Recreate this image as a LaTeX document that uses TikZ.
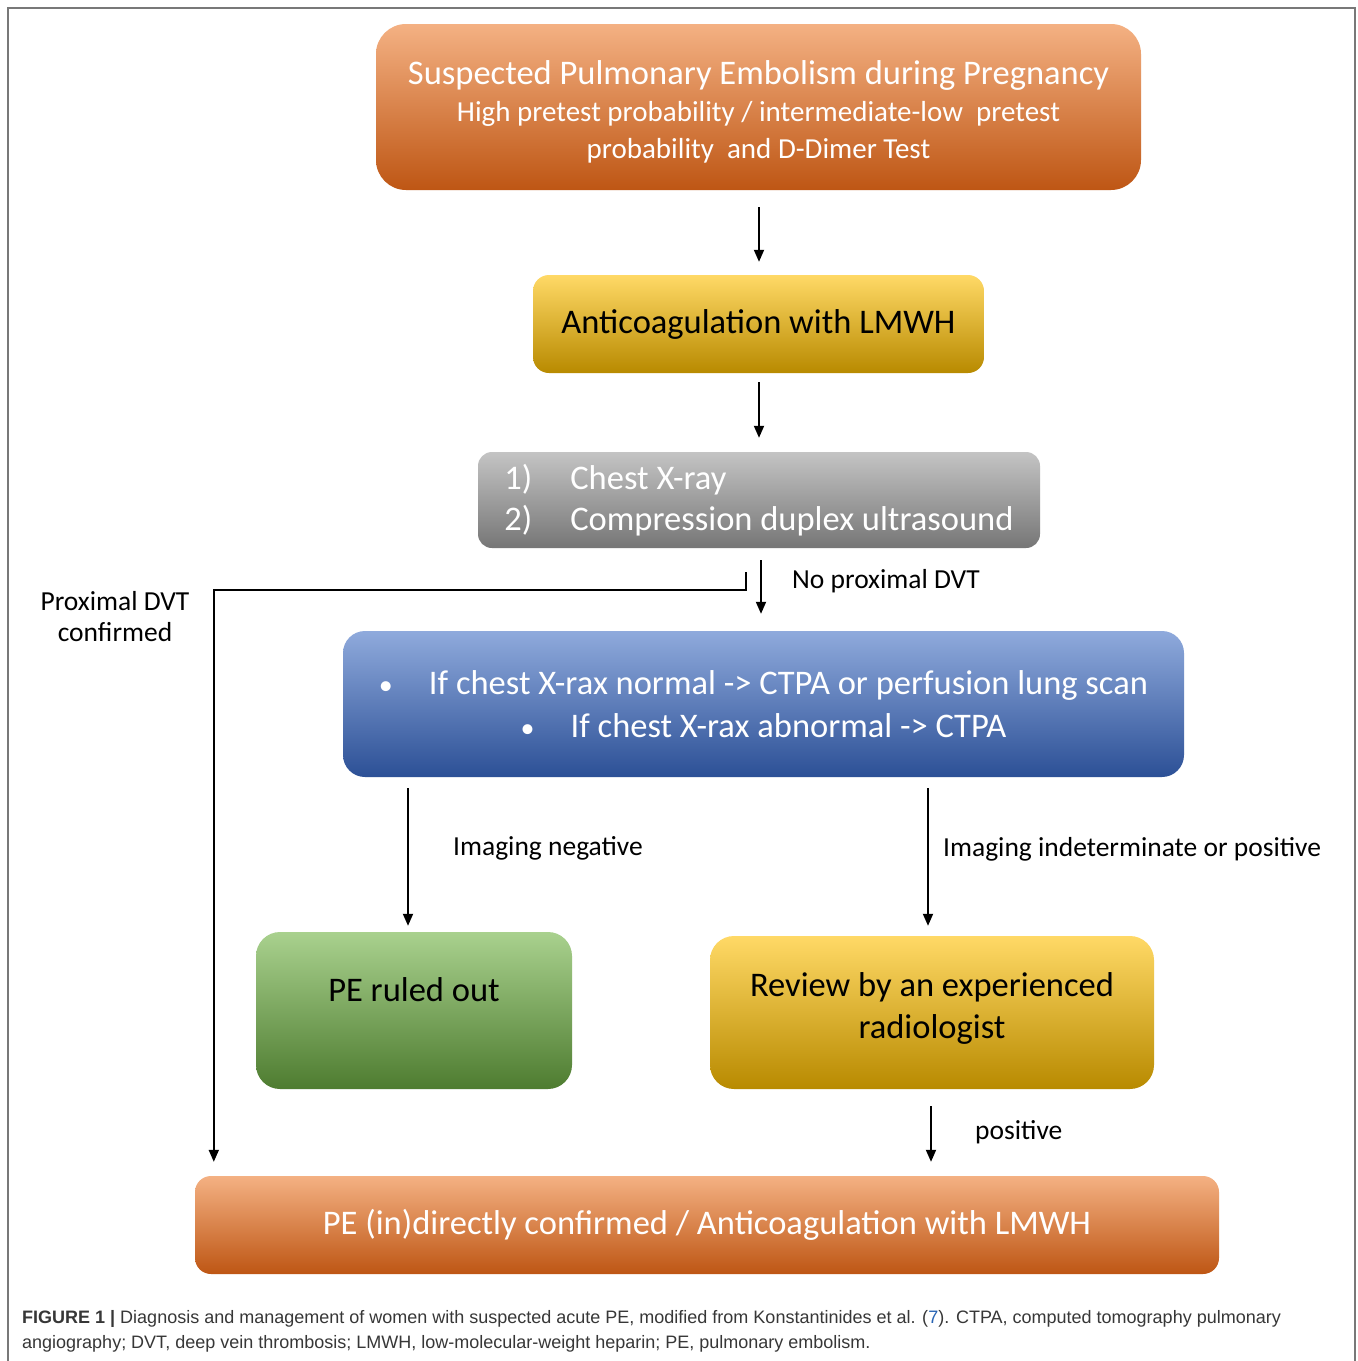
\documentclass[tikz,border=0pt]{standalone}
\usepackage{fontspec}
\setmainfont{Carlito}
\newfontfamily\capfont{Liberation Sans}
\usetikzlibrary{arrows.meta,calc}
\definecolor{orT}{RGB}{244,177,131}
\definecolor{orM}{RGB}{237,125,49}
\definecolor{orB}{RGB}{190,86,20}
\definecolor{yeT}{RGB}{255,217,102}
\definecolor{yeM}{RGB}{255,192,0}
\definecolor{yeB}{RGB}{184,138,0}
\definecolor{grT}{RGB}{196,196,196}
\definecolor{grM}{RGB}{160,160,160}
\definecolor{grB}{RGB}{118,118,118}
\definecolor{blT}{RGB}{143,170,220}
\definecolor{blM}{RGB}{68,114,196}
\definecolor{blB}{RGB}{44,80,150}
\definecolor{gnT}{RGB}{169,209,142}
\definecolor{gnM}{RGB}{112,173,71}
\definecolor{gnB}{RGB}{78,124,48}
\definecolor{capgray}{RGB}{55,55,55}
\definecolor{linkblue}{RGB}{40,100,180}
\definecolor{framegray}{RGB}{120,120,120}
\tikzset{
  box/.style={rounded corners=#1, inner sep=0pt, align=center},
  orangebox/.style={shade, top color=orT, middle color=orM, bottom color=orB, text=white},
  yellowbox/.style={shade, top color=yeT, middle color=yeM, bottom color=yeB, text=black},
  graybox/.style={shade, top color=grT, middle color=grM, bottom color=grB, text=white},
  bluebox/.style={shade, top color=blT, middle color=blM, bottom color=blB, text=white},
  greenbox/.style={shade, top color=gnT, middle color=gnM, bottom color=gnB, text=black},
  bodyfont/.style={font=\fontsize{34.5}{41}\selectfont},
  lbl/.style={font=\fontsize{27.5}{31}\selectfont, inner sep=0pt, text=black},
  arr/.style={draw=black, line width=1.8pt, -{Triangle[length=12pt,width=10pt]}},
  capline/.style={font=\capfont\fontsize{18}{21}\selectfont, text=capgray, anchor=west, inner sep=0pt}
}
\begin{document}
\begin{tikzpicture}[x=1pt,y=-1pt]
\useasboundingbox (0,0) rectangle (1358,1361);
\fill[white] (0,0) rectangle (1358,1361);
% frame
\draw[framegray, line width=2pt] (8,1362) -- (8,8) -- (1355,8) -- (1355,1362);

% boxes
\node[box=30pt, orangebox, minimum width=765pt, minimum height=166pt,
      font=\fontsize{29}{37}\selectfont] (top) at (758.5,107)
  {\rule{0pt}{33pt}{\fontsize{34.5}{39}\selectfont Suspected Pulmonary Embolism during Pregnancy}\\
   High pretest probability / intermediate-low\ \ pretest\\
   probability\ \ and D-Dimer Test};

\node[box=16pt, yellowbox, bodyfont, minimum width=451pt, minimum height=98pt] (anticoag) at (758.5,324)
  {Anticoagulation with LMWH};

\node[box=14pt, graybox, bodyfont, minimum width=562pt, minimum height=96pt, align=left] (gray) at (759,500)
  {\makebox[66pt][l]{1)}Chest X-ray\\
   \makebox[66pt][l]{2)}Compression duplex ultrasound};

\node[box=22pt, bluebox, font=\fontsize{34.5}{43}\selectfont, minimum width=841pt, minimum height=146pt] (blue) at (763.5,704)
  {\makebox[50pt][l]{\fontsize{28}{28}\selectfont\textbullet}If chest X-rax normal -> CTPA or perfusion lung scan\\
   \makebox[50pt][l]{\fontsize{28}{28}\selectfont\textbullet}If chest X-rax abnormal -> CTPA};

\node[box=24pt, greenbox, font=\fontsize{34.5}{42}\selectfont, minimum width=316pt, minimum height=157pt] (green) at (414,1010.5)
  {PE ruled out\\\mbox{}};

\node[box=24pt, yellowbox, font=\fontsize{34.5}{42}\selectfont, minimum width=444pt, minimum height=153pt] (review) at (932,1012.5)
  {Review by an experienced\\radiologist\rule[-14pt]{0pt}{1pt}};

\node[box=16pt, orangebox, bodyfont, minimum width=1024pt, minimum height=98pt] (bottom) at (707,1225)
  {PE (in)directly confirmed / Anticoagulation with LMWH};

% connectors
\draw[arr] ($(top.south)+(0.5,17)$) -- ($(anticoag.north)+(0.5,-13)$);
\draw[arr] ($(anticoag.south)+(0.5,9)$) -- ($(gray.north)+(0,-14)$);
\draw[arr] ($(gray.south)+(2,12)$) -- ($(blue.north)+(-2.5,-17)$);
\coordinate (tick) at ($(gray.south)+(-13,24)$);
\draw[arr] (tick) -- ++(0,18) -| ($(bottom.north west)+(19,-14)$);
\draw[arr] ($(blue.south -| green.north)+(-6,11)$) -- ($(green.north)+(-6,-6)$);
\draw[arr] ($(blue.south -| review.north)+(-4,11)$) -- ($(review.north)+(-4,-10)$);
\draw[arr] ($(review.south)+(-1,17)$) -- ($(review.south |- bottom.north)+(-1,-14)$);

% labels
\node[lbl, anchor=west] (lnodvt) at (792,581) {No proximal DVT};
\node[lbl, align=center] (lprox) at (115,617) {Proximal DVT\\confirmed};
\node[lbl, anchor=west] (lneg) at (453,848) {Imaging negative};
\node[lbl, anchor=west] (lind) at (943,849) {Imaging indeterminate or positive};
\node[lbl, anchor=west] (lpos) at (975,1132) {positive};

% caption
\node[capline] (cap1) at (22,1319) {\textbf{FIGURE 1 |} Diagnosis and management of women with suspected acute PE, modified from Konstantinides et al. ({\color{linkblue}7}). CTPA, computed tomography pulmonary};
\node[capline] (cap2) at (22,1344) {angiography; DVT, deep vein thrombosis; LMWH, low-molecular-weight heparin; PE, pulmonary embolism.};
\end{tikzpicture}
\end{document}
